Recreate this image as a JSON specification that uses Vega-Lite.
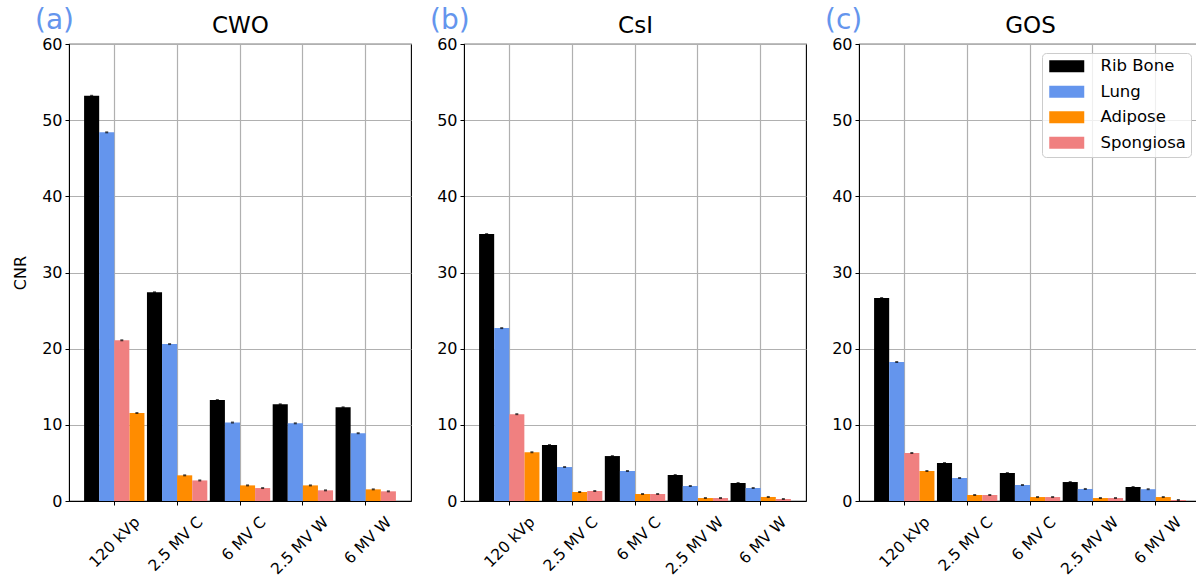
{
  "$schema": "https://vega.github.io/schema/vega-lite/v6.json",
  "padding": {"left": 12, "top": 6, "right": 0, "bottom": 0},
  "spacing": 17,
  "data": {"values": [
    {"det": "CWO", "kv": "120 kVp", "mat": "Rib Bone", "cnr": 53.2},
    {"det": "CWO", "kv": "120 kVp", "mat": "Lung", "cnr": 48.4},
    {"det": "CWO", "kv": "120 kVp", "mat": "Adipose", "cnr": 11.55},
    {"det": "CWO", "kv": "120 kVp", "mat": "Spongiosa", "cnr": 21.1},
    {"det": "CWO", "kv": "2.5 MV C", "mat": "Rib Bone", "cnr": 27.4},
    {"det": "CWO", "kv": "2.5 MV C", "mat": "Lung", "cnr": 20.6},
    {"det": "CWO", "kv": "2.5 MV C", "mat": "Adipose", "cnr": 3.37},
    {"det": "CWO", "kv": "2.5 MV C", "mat": "Spongiosa", "cnr": 2.7},
    {"det": "CWO", "kv": "6 MV C", "mat": "Rib Bone", "cnr": 13.26},
    {"det": "CWO", "kv": "6 MV C", "mat": "Lung", "cnr": 10.3},
    {"det": "CWO", "kv": "6 MV C", "mat": "Adipose", "cnr": 2.05},
    {"det": "CWO", "kv": "6 MV C", "mat": "Spongiosa", "cnr": 1.7},
    {"det": "CWO", "kv": "2.5 MV W", "mat": "Rib Bone", "cnr": 12.7},
    {"det": "CWO", "kv": "2.5 MV W", "mat": "Lung", "cnr": 10.2},
    {"det": "CWO", "kv": "2.5 MV W", "mat": "Adipose", "cnr": 2.05},
    {"det": "CWO", "kv": "2.5 MV W", "mat": "Spongiosa", "cnr": 1.4},
    {"det": "CWO", "kv": "6 MV W", "mat": "Rib Bone", "cnr": 12.3},
    {"det": "CWO", "kv": "6 MV W", "mat": "Lung", "cnr": 8.9},
    {"det": "CWO", "kv": "6 MV W", "mat": "Adipose", "cnr": 1.53},
    {"det": "CWO", "kv": "6 MV W", "mat": "Spongiosa", "cnr": 1.27},
    {"det": "CsI", "kv": "120 kVp", "mat": "Rib Bone", "cnr": 35.05},
    {"det": "CsI", "kv": "120 kVp", "mat": "Lung", "cnr": 22.7},
    {"det": "CsI", "kv": "120 kVp", "mat": "Adipose", "cnr": 6.4},
    {"det": "CsI", "kv": "120 kVp", "mat": "Spongiosa", "cnr": 11.4},
    {"det": "CsI", "kv": "2.5 MV C", "mat": "Rib Bone", "cnr": 7.35},
    {"det": "CsI", "kv": "2.5 MV C", "mat": "Lung", "cnr": 4.46},
    {"det": "CsI", "kv": "2.5 MV C", "mat": "Adipose", "cnr": 1.18},
    {"det": "CsI", "kv": "2.5 MV C", "mat": "Spongiosa", "cnr": 1.31},
    {"det": "CsI", "kv": "6 MV C", "mat": "Rib Bone", "cnr": 5.9},
    {"det": "CsI", "kv": "6 MV C", "mat": "Lung", "cnr": 3.94},
    {"det": "CsI", "kv": "6 MV C", "mat": "Adipose", "cnr": 0.92},
    {"det": "CsI", "kv": "6 MV C", "mat": "Spongiosa", "cnr": 0.92},
    {"det": "CsI", "kv": "2.5 MV W", "mat": "Rib Bone", "cnr": 3.41},
    {"det": "CsI", "kv": "2.5 MV W", "mat": "Lung", "cnr": 1.97},
    {"det": "CsI", "kv": "2.5 MV W", "mat": "Adipose", "cnr": 0.39},
    {"det": "CsI", "kv": "2.5 MV W", "mat": "Spongiosa", "cnr": 0.39},
    {"det": "CsI", "kv": "6 MV W", "mat": "Rib Bone", "cnr": 2.36},
    {"det": "CsI", "kv": "6 MV W", "mat": "Lung", "cnr": 1.71},
    {"det": "CsI", "kv": "6 MV W", "mat": "Adipose", "cnr": 0.53},
    {"det": "CsI", "kv": "6 MV W", "mat": "Spongiosa", "cnr": 0.26},
    {"det": "GOS", "kv": "120 kVp", "mat": "Rib Bone", "cnr": 26.65},
    {"det": "GOS", "kv": "120 kVp", "mat": "Lung", "cnr": 18.25},
    {"det": "GOS", "kv": "120 kVp", "mat": "Adipose", "cnr": 3.94},
    {"det": "GOS", "kv": "120 kVp", "mat": "Spongiosa", "cnr": 6.3},
    {"det": "GOS", "kv": "2.5 MV C", "mat": "Rib Bone", "cnr": 4.99},
    {"det": "GOS", "kv": "2.5 MV C", "mat": "Lung", "cnr": 3.02},
    {"det": "GOS", "kv": "2.5 MV C", "mat": "Adipose", "cnr": 0.79},
    {"det": "GOS", "kv": "2.5 MV C", "mat": "Spongiosa", "cnr": 0.79},
    {"det": "GOS", "kv": "6 MV C", "mat": "Rib Bone", "cnr": 3.68},
    {"det": "GOS", "kv": "6 MV C", "mat": "Lung", "cnr": 2.1},
    {"det": "GOS", "kv": "6 MV C", "mat": "Adipose", "cnr": 0.52},
    {"det": "GOS", "kv": "6 MV C", "mat": "Spongiosa", "cnr": 0.52},
    {"det": "GOS", "kv": "2.5 MV W", "mat": "Rib Bone", "cnr": 2.49},
    {"det": "GOS", "kv": "2.5 MV W", "mat": "Lung", "cnr": 1.58},
    {"det": "GOS", "kv": "2.5 MV W", "mat": "Adipose", "cnr": 0.39},
    {"det": "GOS", "kv": "2.5 MV W", "mat": "Spongiosa", "cnr": 0.39},
    {"det": "GOS", "kv": "6 MV W", "mat": "Rib Bone", "cnr": 1.84},
    {"det": "GOS", "kv": "6 MV W", "mat": "Lung", "cnr": 1.55},
    {"det": "GOS", "kv": "6 MV W", "mat": "Adipose", "cnr": 0.52},
    {"det": "GOS", "kv": "6 MV W", "mat": "Spongiosa", "cnr": 0.13}
  ]},
  "transform": [
    {"calculate": "indexof(['Rib Bone','Lung','Adipose','Spongiosa'], datum.mat) + (datum.kv === '120 kVp' && datum.mat === 'Adipose' ? 1 : (datum.kv === '120 kVp' && datum.mat === 'Spongiosa' ? -1 : 0))", "as": "slot"}
  ],
  "hconcat": [
    {
      "width": 342, "height": 457,
      "title": {"text": "(a)"},
      "transform": [{"filter": "datum.det === 'CWO'"}],
      "layer": [
        {"mark": {"type": "bar"},
         "encoding": {
           "x": {"field": "kv", "type": "nominal", "sort": ["120 kVp", "2.5 MV C", "6 MV C", "2.5 MV W", "6 MV W"], "scale": {"paddingInner": 0.04, "paddingOuter": 0.24}, "axis": {"title": null, "orient": "bottom"}},
           "xOffset": {"field": "slot", "type": "ordinal", "scale": {"paddingInner": 0, "paddingOuter": 0}},
           "y": {"field": "cnr", "type": "quantitative", "scale": {"domain": [0, 60]}, "axis": {"title": "CNR", "values": [0, 10, 20, 30, 40, 50, 60]}},
           "color": {"field": "mat", "type": "nominal", "scale": {"domain": ["Rib Bone", "Lung", "Adipose", "Spongiosa"], "range": ["#000000", "#6495ED", "#FF8C00", "#F08080"]}, "legend": null}
         }},
        {"mark": {"type": "tick", "color": "black", "size": 3, "thickness": 2},
         "encoding": {
           "x": {"field": "kv", "type": "nominal", "sort": ["120 kVp", "2.5 MV C", "6 MV C", "2.5 MV W", "6 MV W"], "axis": {"orient": "top", "title": "CWO", "labels": false, "ticks": false, "domain": false, "grid": false}},
           "xOffset": {"field": "slot", "type": "ordinal"},
           "y": {"field": "cnr", "type": "quantitative"}
         }}
      ],
      "resolve": {"axis": {"x": "independent"}}
    },
    {
      "width": 342, "height": 457,
      "title": {"text": "(b)"},
      "transform": [{"filter": "datum.det === 'CsI'"}],
      "layer": [
        {"mark": {"type": "bar"},
         "encoding": {
           "x": {"field": "kv", "type": "nominal", "sort": ["120 kVp", "2.5 MV C", "6 MV C", "2.5 MV W", "6 MV W"], "scale": {"paddingInner": 0.04, "paddingOuter": 0.24}, "axis": {"title": null, "orient": "bottom"}},
           "xOffset": {"field": "slot", "type": "ordinal", "scale": {"paddingInner": 0, "paddingOuter": 0}},
           "y": {"field": "cnr", "type": "quantitative", "scale": {"domain": [0, 60]}, "axis": {"title": null, "values": [0, 10, 20, 30, 40, 50, 60]}},
           "color": {"field": "mat", "type": "nominal", "scale": {"domain": ["Rib Bone", "Lung", "Adipose", "Spongiosa"], "range": ["#000000", "#6495ED", "#FF8C00", "#F08080"]}, "legend": null}
         }},
        {"mark": {"type": "tick", "color": "black", "size": 3, "thickness": 2},
         "encoding": {
           "x": {"field": "kv", "type": "nominal", "sort": ["120 kVp", "2.5 MV C", "6 MV C", "2.5 MV W", "6 MV W"], "axis": {"orient": "top", "title": "CsI", "labels": false, "ticks": false, "domain": false, "grid": false}},
           "xOffset": {"field": "slot", "type": "ordinal"},
           "y": {"field": "cnr", "type": "quantitative"}
         }}
      ],
      "resolve": {"axis": {"x": "independent"}}
    },
    {
      "width": 342, "height": 457,
      "title": {"text": "(c)"},
      "transform": [{"filter": "datum.det === 'GOS'"}],
      "layer": [
        {"mark": {"type": "bar"},
         "encoding": {
           "x": {"field": "kv", "type": "nominal", "sort": ["120 kVp", "2.5 MV C", "6 MV C", "2.5 MV W", "6 MV W"], "scale": {"paddingInner": 0.04, "paddingOuter": 0.24}, "axis": {"title": null, "orient": "bottom"}},
           "xOffset": {"field": "slot", "type": "ordinal", "scale": {"paddingInner": 0, "paddingOuter": 0}},
           "y": {"field": "cnr", "type": "quantitative", "scale": {"domain": [0, 60]}, "axis": {"title": null, "values": [0, 10, 20, 30, 40, 50, 60]}},
           "color": {"field": "mat", "type": "nominal", "scale": {"domain": ["Rib Bone", "Lung", "Adipose", "Spongiosa"], "range": ["#000000", "#6495ED", "#FF8C00", "#F08080"]},
             "legend": {"orient": "none", "legendX": 183, "legendY": 9, "title": null, "labelFontSize": 16.5, "labelColor": "black", "symbolType": "M-1,-1H4.833V1H-1Z", "symbolSize": 144, "symbolStrokeWidth": 0, "symbolOpacity": 1, "fillColor": "rgba(255,255,255,0.8)", "strokeColor": "#cccccc", "cornerRadius": 4, "padding": 5, "rowPadding": 8.5, "labelOffset": 37}}
         }},
        {"mark": {"type": "tick", "color": "black", "size": 3, "thickness": 2},
         "encoding": {
           "x": {"field": "kv", "type": "nominal", "sort": ["120 kVp", "2.5 MV C", "6 MV C", "2.5 MV W", "6 MV W"], "axis": {"orient": "top", "title": "GOS", "labels": false, "ticks": false, "domain": false, "grid": false}},
           "xOffset": {"field": "slot", "type": "ordinal"},
           "y": {"field": "cnr", "type": "quantitative"}
         }}
      ],
      "resolve": {"axis": {"x": "independent"}}
    }
  ],
  "resolve": {"legend": {"color": "independent"}},
  "config": {
    "font": "DejaVu Sans",
    "view": {"stroke": "black", "strokeWidth": 1.1},
    "title": {"anchor": "start", "frame": "group", "dx": -34, "offset": -21, "color": "#6495ED", "fontSize": 28, "fontWeight": "normal", "baseline": "alphabetic"},
    "axis": {"labelColor": "black", "tickColor": "black", "domainColor": "black", "gridColor": "#b0b0b0", "gridWidth": 1.2, "tickSize": 4, "labelFontSize": 15, "titleColor": "black", "titleFontWeight": "normal"},
    "axisX": {"bandPosition": 0.5, "labelAngle": -45, "labelAlign": "right", "labelBaseline": "middle", "labelOffset": 23, "labelPadding": 14, "labelFontSize": 15.5, "grid": true, "titleFontSize": 23, "titlePadding": 12, "titleBaseline": "alphabetic"},
    "axisY": {"labelFontSize": 16, "labelPadding": 3, "titleFontSize": 16, "titlePadding": 13, "grid": true}
  }
}
